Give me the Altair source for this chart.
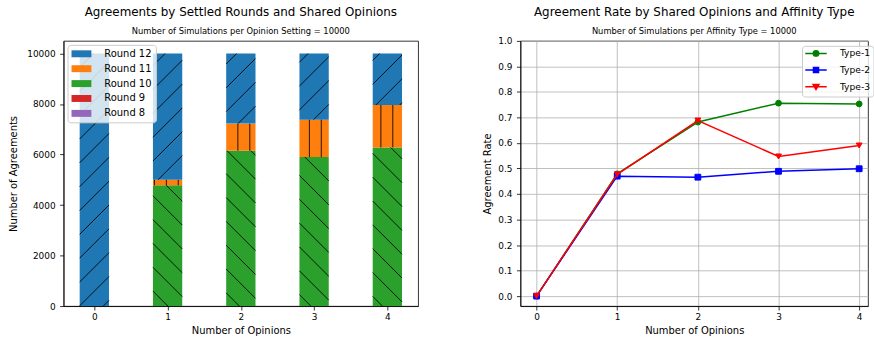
import math
import altair as alt
import pandas as pd

# ---------------- data ----------------
opinions = [0, 1, 2, 3, 4]

round_names = ["Round 12", "Round 11", "Round 10", "Round 9", "Round 8"]
round_colors = ["#1f77b4", "#ff7f0e", "#2ca02c", "#d62728", "#9467bd"]
round_hatches = ["/", "|", "\\", "+", "+"]
round8 = [0, 0, 0, 0, 0]
round9 = [0, 0, 0, 0, 0]
round10 = [0, 4780, 6150, 5900, 6280]
round11 = [0, 220, 1075, 1480, 1680]
round12 = [10000, 5000, 2775, 2620, 2040]
count_ticks = [0, 2000, 4000, 6000, 8000, 10000]

types = ["Type-1", "Type-2", "Type-3"]
type_colors = ["#008000", "#0000ff", "#ff0000"]
type_shapes = ["circle", "square", "triangle-down"]
type1 = [0.0, 0.479, 0.682, 0.756, 0.753]
type2 = [0.0, 0.470, 0.466, 0.489, 0.499]
type3 = [0.0, 0.477, 0.688, 0.547, 0.590]
rate_ticks = [0.0, 0.1, 0.2, 0.3, 0.4, 0.5, 0.6, 0.7, 0.8, 0.9, 1.0]

left_title = "Agreements by Settled Rounds and Shared Opinions"
left_subtitle = "Number of Simulations per Opinion Setting = 10000"
right_title = "Agreement Rate by Shared Opinions and Affinity Type"
right_subtitle = "Number of Simulations per Affinity Type = 10000"
x_title = "Number of Opinions"
left_y_title = "Number of Agreements"
right_y_title = "Agreement Rate"

# ---------------- layout / style ----------------
FONT = "DejaVu Sans"
LW, LH = 357, 267
RW, RH = 350, 267
GAP = 103
BAR_W = 0.4
LX = [-0.42, 4.42]
LY = [0, 10500]
RX = [-0.2, 4.11]
RY = [-0.039, 1.0]
HATCH_STEP = 12.0

# ---------------- stacked bar table ----------------
stack_order = [("Round 8", round8), ("Round 9", round9), ("Round 10", round10),
               ("Round 11", round11), ("Round 12", round12)]
rows = []
for i, op in enumerate(opinions):
    base = 0
    for name, vals in stack_order:
        v = vals[i]
        rows.append(dict(round=name, op=op, x0=op - BAR_W / 2, x1=op + BAR_W / 2,
                         y0=base, y1=base + v))
        base += v
bars = pd.DataFrame(rows)

# ---------------- hatch segments derived from the bars ----------------
kx = LW / (LX[1] - LX[0])
ky = LH / (LY[1] - LY[0])


def to_px(x, y):
    return ((x - LX[0]) * kx, LH - (y - LY[0]) * ky)


def to_data(px, py):
    return (LX[0] + px / kx, LY[0] + (LH - py) / ky)


hatch_of = dict(zip(round_names, round_hatches))
segs = []


def add(p, q):
    a = to_data(*p)
    b = to_data(*q)
    segs.append(dict(hx=a[0], hy=a[1], hx2=b[0], hy2=b[1]))


for r in rows:
    if r["y1"] <= r["y0"]:
        continue
    xa, yb = to_px(r["x0"], r["y0"])
    xb, yt = to_px(r["x1"], r["y1"])
    h = hatch_of[r["round"]]
    period = 2 * HATCH_STEP
    if h == "/":
        phase = 19.0
        k0 = math.floor((xa + yt - phase) / period) - 1
        k1 = math.ceil((xb + yb - phase) / period) + 1
        for k in range(k0, k1 + 1):
            c = phase + k * period
            lo = max(xa, c - yb)
            hi = min(xb, c - yt)
            if hi - lo > 0.4:
                add((lo, c - lo), (hi, c - hi))
    if h == "\\":
        phase = 18.0
        k0 = math.floor((yt - xb - phase) / period) - 1
        k1 = math.ceil((yb - xa - phase) / period) + 1
        for k in range(k0, k1 + 1):
            c = phase + k * period
            lo = max(xa, yt - c)
            hi = min(xb, yb - c)
            if hi - lo > 0.4:
                add((lo, lo + c), (hi, hi + c))
    if h in ("|", "+"):
        phase = 7.5
        k0 = math.floor((xa - phase) / HATCH_STEP)
        k1 = math.ceil((xb - phase) / HATCH_STEP)
        for k in range(k0, k1 + 1):
            x = phase + k * HATCH_STEP
            if xa + 0.5 < x < xb - 0.5:
                add((x, yt), (x, yb))
    if h in ("-", "+"):
        phase = 6.0
        k0 = math.floor((yt - phase) / HATCH_STEP)
        k1 = math.ceil((yb - phase) / HATCH_STEP)
        for k in range(k0, k1 + 1):
            y = phase + k * HATCH_STEP
            if yt + 0.5 < y < yb - 0.5:
                add((xa, y), (xb, y))
hatch = pd.DataFrame(segs)

# ---------------- rate table ----------------
rate_rows = []
for t, vals in zip(types, [type1, type2, type3]):
    for op, v in zip(opinions, vals):
        rate_rows.append(dict(type=t, op=op, rate=v))
rates = pd.DataFrame(rate_rows)

# ---------------- left chart ----------------
lxs = alt.Scale(domain=LX, nice=False, zero=False)
lys = alt.Scale(domain=LY, nice=False)
lx_axis = alt.Axis(title=x_title, values=opinions, format="d", grid=False,
                   titleY=25, titleBaseline="middle")
ly_axis = alt.Axis(title=left_y_title, values=count_ticks, format="d", grid=False,
                   titleX=-50, titleBaseline="middle")

left_legend = alt.Legend(
    title=None, orient="none", legendX=4, legendY=4,
    symbolType="M-2,-0.7H2V0.7H-2Z", symbolSize=100, symbolStrokeWidth=0,
    symbolOffset=5, labelOffset=18, rowPadding=5, padding=4,
    fillColor="rgba(255,255,255,0.8)", strokeColor="#cccccc", cornerRadius=3,
    labelFont=FONT, labelFontSize=10, labelColor="black", symbolOpacity=1,
)

bar_layer = alt.Chart(bars).mark_bar().encode(
    x=alt.X("x0:Q", scale=lxs, axis=lx_axis),
    x2="x1:Q",
    y=alt.Y("y0:Q", scale=lys, axis=ly_axis),
    y2="y1:Q",
    color=alt.Color("round:N", scale=alt.Scale(domain=round_names, range=round_colors),
                    legend=left_legend),
)
hatch_layer = alt.Chart(hatch).mark_rule(color="black", strokeWidth=1, opacity=0.85).encode(
    x=alt.X("hx:Q", scale=lxs, axis=lx_axis),
    x2="hx2:Q",
    y=alt.Y("hy:Q", scale=lys, axis=ly_axis),
    y2="hy2:Q",
)


def title_params(text, sub, offset):
    return alt.TitleParams(
        text=text, subtitle=sub, font=FONT, fontSize=12, fontWeight="normal",
        color="black", subtitleFont=FONT, subtitleFontSize=8.4,
        subtitleColor="black", anchor="middle", offset=offset, subtitlePadding=8.2,
        frame="group",
    )


left = alt.layer(bar_layer, hatch_layer).properties(
    width=LW, height=LH, title=title_params(left_title, left_subtitle, 4.9))

# ---------------- right chart ----------------
rxs = alt.Scale(domain=RX, nice=False, zero=False)
rys = alt.Scale(domain=RY, nice=False, zero=False)
rx_axis = alt.Axis(title=x_title, values=opinions, format="d", grid=True,
                   titleY=25, titleBaseline="middle")
ry_axis = alt.Axis(title=right_y_title, values=rate_ticks, format=".1f", grid=True,
                   titleX=-33, titleBaseline="middle")
X = alt.X("op:Q", scale=rxs, axis=rx_axis)
Y = alt.Y("rate:Q", scale=rys, axis=ry_axis)

layers = []
for t, c, s in zip(types, type_colors, type_shapes):
    base = alt.Chart(rates).transform_filter(alt.datum.type == t)
    layers.append(base.mark_line(color=c, strokeWidth=1.5).encode(x=X, y=Y))
    layers.append(base.mark_point(shape=s, filled=True, size=34, color=c, opacity=1,
                                  stroke=c, strokeWidth=1).encode(x=X, y=Y))

legend_paths = [
    "M-3.6,0H3.6M0.9,0A0.9,0.9,0,1,1,-0.9,0A0.9,0.9,0,1,1,0.9,0Z",
    "M-3.6,0H3.6M-0.85,-0.85H0.85V0.85H-0.85Z",
    "M-3.6,0H3.6M-1,-0.8H1L0,0.95Z",
]
# legends of a concatenated chart are placed from the first panel's origin
right_legend = alt.Legend(
    title=None, orient="none", legendX=LW + GAP + 283.5, legendY=5,
    symbolSize=36, symbolStrokeWidth=1.5, symbolOpacity=1,
    symbolOffset=6.5, labelOffset=19.5, rowPadding=4.8, padding=3,
    fillColor="rgba(255,255,255,0.8)", strokeColor="#cccccc", cornerRadius=3,
    labelFont=FONT, labelFontSize=9.2, labelColor="black",
)
legend_layer = alt.Chart(rates).mark_point(filled=True, opacity=0).encode(
    x=X, y=Y,
    fill=alt.Fill("type:N", scale=alt.Scale(domain=types, range=type_colors), legend=right_legend),
    stroke=alt.Stroke("type:N", scale=alt.Scale(domain=types, range=type_colors), legend=right_legend),
    shape=alt.Shape("type:N", scale=alt.Scale(domain=types, range=legend_paths), legend=right_legend),
)
layers.append(legend_layer)

# the "1.0" label pokes about 4.5 px above this panel, so its title offset is smaller
right = alt.layer(*layers).properties(
    width=RW, height=RH, title=title_params(right_title, right_subtitle, 0.4))

# ---------------- assemble ----------------
chart = alt.hconcat(left, right, spacing=GAP, bounds="flush").properties(
    padding={"left": 8, "top": 4, "right": 0, "bottom": 0}
).configure_axis(
    labelFont=FONT, titleFont=FONT, labelFontSize=9, titleFontSize=10,
    titleFontWeight="normal", labelColor="black", titleColor="black",
    tickColor="black", domainColor="black", tickSize=4, tickWidth=0.8,
    domainWidth=0.8, gridColor="#b0b0b0", gridWidth=0.8, gridOpacity=1,
).configure_axisX(labelPadding=2.5).configure_axisY(labelPadding=4.5).configure_view(
    stroke="black", strokeWidth=0.8
)

chart.save("out.html", embed_options={"renderer": "svg", "actions": False})
